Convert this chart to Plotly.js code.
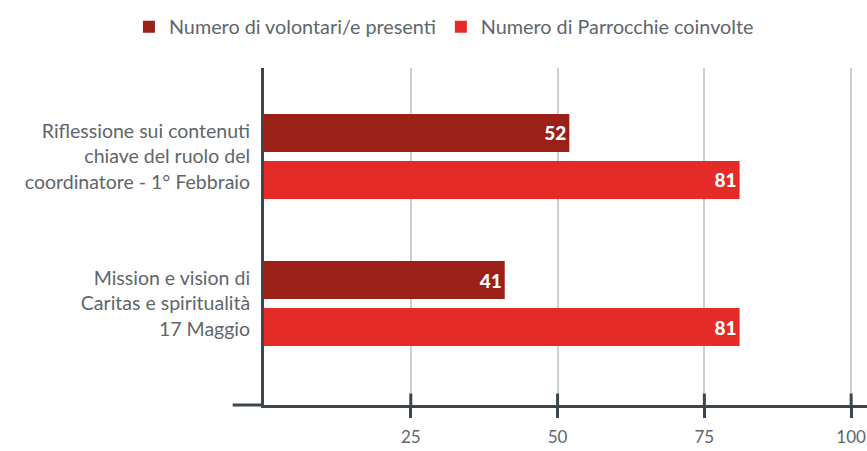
<!DOCTYPE html>
<html>
<head>
<meta charset="utf-8">
<script src="https://cdn.plot.ly/plotly-3.0.1.min.js"></script>
<style>html,body{margin:0;padding:0;background:#fff;}#chart{width:867px;height:451px;}</style>
</head>
<body>
<div id="chart"></div>
<script>
const categories = [
  "Riflessione sui contenuti<br>chiave del ruolo del<br>coordinatore - 1° Febbraio",
  "Mission e vision di<br>Caritas e spiritualità<br>17 Maggio"
];
const seriesNames = ["Numero di volontari/e presenti", "Numero di Parrocchie coinvolte"];
const volontari = [52, 41];
const parrocchie = [81, 81];
const tickValues = [25, 50, 75, 100];
const tickLabels = ["25", "50", "75", "100"];

const FONT = "Lato, 'Open Sans', sans-serif";
const TXT = "#5d666c";
const AX = "#3b464d";
const XR = [0, 102.7];

const traces = [
  {type: "bar", orientation: "h", name: seriesNames[0], y: categories, x: volontari,
   marker: {color: "#9b2018"}, text: volontari.map(String), textposition: "inside",
   insidetextanchor: "end", textfont: {family: FONT, size: 19, color: "#ffffff", weight: 900},
   hoverinfo: "x"},
  {type: "bar", orientation: "h", name: seriesNames[1], y: categories, x: parrocchie,
   marker: {color: "#e52b27"}, text: parrocchie.map(String), textposition: "inside",
   insidetextanchor: "end", textfont: {family: FONT, size: 19, color: "#ffffff", weight: 900},
   hoverinfo: "x"}
];

// upper halves of the x-axis tick marks (crossing the axis line), placed at the tick values
const tickShapes = tickValues.map(v => ({
  type: "line", xref: "x", yref: "paper", x0: v, x1: v, y0: 0, y1: 0.034,
  layer: "above", line: {color: AX, width: 3}
}));

const layout = {
  width: 867, height: 451,
  margin: {l: 264, r: 0, t: 68, b: 46},
  paper_bgcolor: "#ffffff", plot_bgcolor: "#ffffff",
  font: {family: FONT, size: 17, color: TXT},
  barmode: "group", bargap: 0.361, bargroupgap: 0.191,
  showlegend: true,
  legend: {orientation: "h", x: -0.224, xanchor: "left", y: 1.122, yanchor: "middle",
           font: {family: FONT, size: 19.8, color: TXT}, itemwidth: 30},
  xaxis: {range: XR, tickvals: tickValues, ticktext: tickLabels, tickmode: "array",
          showgrid: true, gridcolor: "#c9cfd3", gridwidth: 2,
          zeroline: false, showline: true, linecolor: AX, linewidth: 3,
          ticks: "outside", ticklen: 10, tickwidth: 3, tickcolor: AX,
          ticklabelstandoff: 5,
          tickfont: {family: FONT, size: 17, color: TXT}, fixedrange: true},
  yaxis: {range: [1.69, -0.601], type: "category",
          showline: true, linecolor: AX, linewidth: 3, showgrid: false, zeroline: false,
          ticks: "outside", ticklen: 7, tickcolor: "rgba(0,0,0,0)",
          tickfont: {family: FONT, size: 19.5, color: TXT}, fixedrange: true},
  shapes: [
    {type: "line", xref: "paper", yref: "paper", x0: -0.052, x1: 0, y0: 0, y1: 0,
     line: {color: AX, width: 3}}
  ].concat(tickShapes)
};

Plotly.newPlot("chart", traces, layout, {displayModeBar: false, staticPlot: true});
</script>
</body>
</html>
